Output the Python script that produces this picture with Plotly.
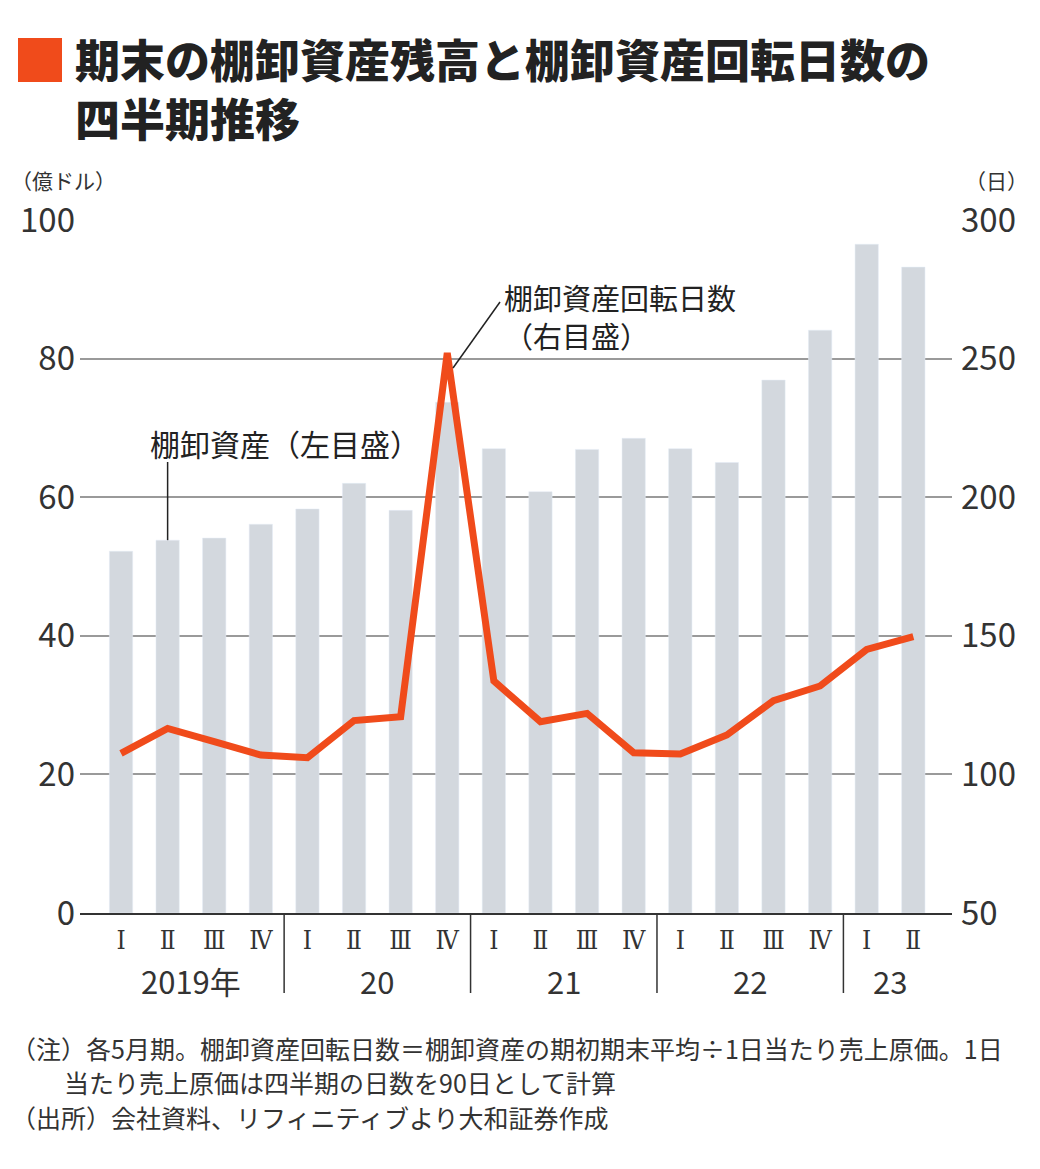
import plotly.graph_objects as go

# ---- data ----
quarters = ["Ⅰ", "Ⅱ", "Ⅲ", "Ⅳ"] * 4 + ["Ⅰ", "Ⅱ"]
years = ["2019年", "20", "21", "22", "23"]
year_sizes = [4, 4, 4, 4, 2]
inventory = [52.2, 53.8, 54.1, 56.1, 58.3, 62.0, 58.1, 73.7,
             67.0, 60.8, 66.9, 68.5, 67.0, 65.0, 76.9, 84.1, 96.5, 93.2]
turnover_days = [107.6, 116.6, 111.8, 107.0, 106.0, 119.4, 120.8, 252.0,
                 133.7, 119.0, 122.0, 107.8, 107.4, 114.2, 126.6, 131.9, 145.1, 149.7]
left_ticks = [0, 20, 40, 60, 80, 100]
right_ticks = [50, 100, 150, 200, 250, 300]

title_text = "期末の棚卸資産残高と棚卸資産回転日数の<br>四半期推移"
left_unit = "（億ドル）"
right_unit = "（日）"
label_inventory = "棚卸資産（左目盛）"
label_turnover = "棚卸資産回転日数<br>（右目盛）"
notes = ["（注）各5月期。棚卸資産回転日数＝棚卸資産の期初期末平均÷1日当たり売上原価。1日",
         "当たり売上原価は四半期の日数を90日として計算",
         "（出所）会社資料、リフィニティブより大和証券作成"]

# ---- layout geometry (page pixels; the page body adds an 8px offset) ----
OFF = 8
W, H = 1040 - OFF, 1169 - OFF
L, R, T, B = 80, 952, 220, 913
FONT = "Noto Sans CJK JP"
TXT = "#333333"
ORANGE = "#F04B1B"
BAR = "#D3D8DE"

def px(x):
    return (x - L) / (R - L)

def py(y):
    return (B - y) / (B - T)

xs = list(range(len(inventory)))

fig = go.Figure()
fig.add_trace(go.Bar(x=xs, y=inventory, marker_color=BAR, width=0.5,
                     yaxis="y", hoverinfo="skip"))
fig.add_trace(go.Scatter(x=xs, y=turnover_days, mode="lines", yaxis="y2",
                         line=dict(color=ORANGE, width=7), hoverinfo="skip"))

fig.update_layout(
    width=W, height=H,
    margin=dict(l=L - OFF, r=W - (R - OFF), t=T - OFF, b=H - (B - OFF), pad=0),
    paper_bgcolor="white", plot_bgcolor="white",
    showlegend=False,
    font=dict(family=FONT, color=TXT),
    xaxis=dict(range=[-0.88, 17.83], tickvals=xs, ticktext=quarters,
               showgrid=False, zeroline=False, ticks="",
               tickfont=dict(size=26, color=TXT, family="DejaVu Serif Condensed, DejaVu Serif"),
               ticklabelstandoff=3,
               showline=True, linecolor="#333333", linewidth=2),
    yaxis=dict(range=[0, 100], tickvals=left_ticks, showgrid=True,
               gridcolor="#9a9a9a", gridwidth=1.5, zeroline=False,
               tickfont=dict(size=33, color=TXT), ticks="", ticklabelstandoff=4),
    yaxis2=dict(range=[50, 300], tickvals=right_ticks, overlaying="y", side="right",
                showgrid=False, zeroline=False,
                tickfont=dict(size=33, color=TXT), ticks="", ticklabelstandoff=8),
)

anns = []
# title
fig.add_shape(type="rect", xref="paper", yref="paper",
              x0=px(18), x1=px(62), y0=py(82), y1=py(38),
              fillcolor=ORANGE, line_width=0)
anns.append(dict(text=title_text, x=px(73), y=py(88), xref="paper", yref="paper",
                 xanchor="left", yanchor="middle", align="left", showarrow=False,
                 font=dict(size=45, color="#222222", family=FONT, weight=900)))

# axis units
anns.append(dict(text=left_unit, x=px(9), y=py(180), xref="paper", yref="paper",
                 xanchor="left", yanchor="middle", showarrow=False,
                 font=dict(size=21, color=TXT, family=FONT)))
anns.append(dict(text=right_unit, x=px(1030), y=py(180), xref="paper", yref="paper",
                 xanchor="right", yanchor="middle", showarrow=False,
                 font=dict(size=21, color=TXT, family=FONT)))

# year labels and separators
start = 0
for yr, n in zip(years, year_sizes):
    cx = start + (n - 1) / 2
    anns.append(dict(text=yr, x=cx, y=py(980), xref="x", yref="paper",
                     xanchor="center", yanchor="middle", showarrow=False,
                     font=dict(size=31, color=TXT, family=FONT)))
    if start > 0:
        fig.add_shape(type="line", xref="x", yref="paper",
                      x0=start - 0.5, x1=start - 0.5, y0=0, y1=py(993),
                      line=dict(color="#333333", width=1.5))
    start += n

# series labels
anns.append(dict(text=label_inventory, x=px(148), y=py(443), xref="paper", yref="paper",
                 xanchor="left", yanchor="middle", showarrow=False,
                 font=dict(size=30, color="#222222", family=FONT)))
fig.add_shape(type="line", xref="x", yref="y", x0=1, x1=1,
              y0=inventory[1], y1=(B - 462) / ((B - T) / 100),
              line=dict(color="#222222", width=1.5))
anns.append(dict(text=label_turnover, x=px(502), y=py(316), xref="paper", yref="paper",
                 xanchor="left", yanchor="middle", align="left", showarrow=False,
                 font=dict(size=29, color="#222222", family=FONT)))
fig.add_shape(type="line", xref="paper", yref="paper",
              x0=px(500), y0=py(302), x1=px(453), y1=py(368),
              line=dict(color="#222222", width=1.5))

# notes
note_pos = [(9, 1048), (62, 1082), (9, 1117)]
for t, (x, y) in zip(notes, note_pos):
    anns.append(dict(text=t, x=px(x), y=py(y), xref="paper", yref="paper",
                     xanchor="left", yanchor="middle", showarrow=False,
                     font=dict(size=25, color=TXT, family=FONT)))

fig.update_layout(annotations=anns)
fig.write_html("out.html")
